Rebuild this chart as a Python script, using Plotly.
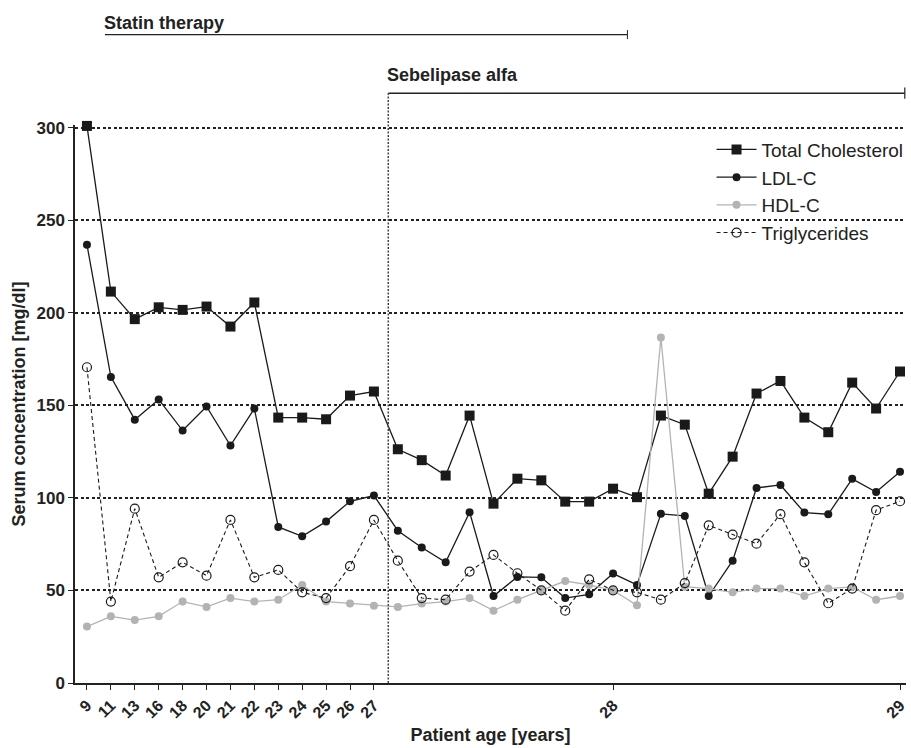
import plotly.graph_objects as go

# x positions are visit indices; only some visits carry an age label
visit_index = list(range(35))
tick_index = [0, 1, 2, 3, 4, 5, 6, 7, 8, 9, 10, 11, 12, 22, 34]
tick_labels = ["9", "11", "13", "16", "18", "20", "21", "22", "23", "24", "25", "26", "27", "28", "29"]

total_chol = [301, 211.5, 196.6, 203, 201.6, 203.4, 192.6, 205.6, 143.4, 143.4, 142.5, 155.3,
              157.5, 126.3, 120.4, 112.1, 144.5, 96.9, 110.4, 109.5, 98, 98, 105, 100.4, 144.5,
              139.6, 102.3, 122.3, 156.4, 163.2, 143.4, 135.5, 162.3, 148.3, 168.3]
ldl_c = [236.8, 165.4, 142.3, 153.2, 136.4, 149.4, 128.3, 148.3, 84.3, 79.3, 87.2, 98.2, 101.3,
         82.3, 73.2, 65.2, 92.3, 47, 57.3, 57.1, 45.9, 47.9, 59.1, 53, 91.4, 90.3, 47, 66.1,
         105.4, 107, 92.1, 91.2, 110.3, 103.2, 114.2]
hdl_c = [30.5, 36, 34, 36, 44, 41.1, 45.9, 44, 45, 53, 44, 42.9, 41.8, 41.1, 42.9, 44, 45.9, 39.1,
         45, 50.1, 55.1, 53, 50.1, 42, 186.7, 52, 51, 49, 51, 51, 47, 51, 51.9, 45, 47]
triglycerides = [170.6, 44, 94.2, 57.1, 65.2, 58, 88.1, 57.1, 61.1, 49, 45.9, 63.1, 88.1, 66.1,
                 45.9, 45, 60.2, 69.2, 59.3, 50.1, 39.1, 56, 50.1, 49, 45, 54, 85.2, 80.2, 75.3,
                 91.2, 65.2, 43.1, 51, 93.4, 98.2]

# therapy periods (in visit-index units)
statin_period = [0.75, 22.6]
sebelipase_period = [12.6, 34.2]

FONT = "Liberation Sans, Arial, sans-serif"

fig = go.Figure()
fig.add_trace(go.Scatter(x=visit_index, y=total_chol, name="Total Cholesterol", mode="lines+markers",
                         legendgroup="a", cliponaxis=False,
                         line=dict(color="#1a1a1a", width=1.3),
                         marker=dict(symbol="square", size=10, color="#1a1a1a")))
fig.add_trace(go.Scatter(x=visit_index, y=ldl_c, name="LDL-C", mode="lines+markers",
                         legendgroup="b", cliponaxis=False,
                         line=dict(color="#1a1a1a", width=1.3),
                         marker=dict(symbol="circle", size=8, color="#1a1a1a")))
fig.add_trace(go.Scatter(x=visit_index, y=hdl_c, name="HDL-C", mode="lines+markers",
                         legendgroup="c", cliponaxis=False,
                         line=dict(color="#b3b3b3", width=1.3),
                         marker=dict(symbol="circle", size=8, color="#b3b3b3")))
fig.add_trace(go.Scatter(x=visit_index, y=triglycerides, name="Triglycerides", mode="lines+markers",
                         legendgroup="d", cliponaxis=False,
                         line=dict(color="#1a1a1a", width=1.1, dash="4px,3px"),
                         marker=dict(symbol="circle-open", size=9, color="#1a1a1a",
                                     line=dict(width=1.2, color="#1a1a1a"))))

shapes = []
# Statin therapy bar
shapes.append(dict(type="line", xref="x", yref="paper", x0=statin_period[0], x1=statin_period[1],
                   y0=1.162, y1=1.162, line=dict(color="#222", width=1.2)))
shapes.append(dict(type="line", xref="x", yref="paper", x0=statin_period[1], x1=statin_period[1],
                   y0=1.154, y1=1.170, line=dict(color="#222", width=1)))
# Sebelipase bar
shapes.append(dict(type="line", xref="x", yref="paper", x0=sebelipase_period[0], x1=sebelipase_period[1],
                   y0=1.057, y1=1.057, line=dict(color="#222", width=1.5)))
shapes.append(dict(type="line", xref="x", yref="paper", x0=sebelipase_period[1], x1=sebelipase_period[1],
                   y0=1.047, y1=1.067, line=dict(color="#222", width=1.2)))
shapes.append(dict(type="line", xref="x", yref="paper", x0=sebelipase_period[0], x1=sebelipase_period[0],
                   y0=0, y1=1.057, line=dict(color="#444", width=1.5, dash="2px,1.5px")))

annotations = [
    dict(text="<b>Statin therapy</b>", xref="x", yref="paper", x=statin_period[0], y=1.183,
         xanchor="left", yanchor="middle", showarrow=False, xshift=-3,
         font=dict(size=18, color="#222", family=FONT)),
    dict(text="<b>Sebelipase alfa</b>", xref="x", yref="paper", x=sebelipase_period[0], y=1.090,
         xanchor="left", yanchor="middle", showarrow=False, xshift=-3,
         font=dict(size=18, color="#222", family=FONT)),
]

fig.update_layout(
    width=911, height=748,
    margin=dict(l=75, r=5, t=125, b=65, autoexpand=False),
    paper_bgcolor="white", plot_bgcolor="white",
    font=dict(family=FONT, color="#222"),
    shapes=shapes, annotations=annotations,
    legend=dict(x=0.766, y=0.99, xanchor="left", yanchor="top", bgcolor="rgba(0,0,0,0)",
                font=dict(size=19, color="#222"), tracegroupgap=0, itemwidth=40),
    xaxis=dict(range=[-0.5, 34.25], tickmode="array", tickvals=tick_index, ticktext=tick_labels,
               tickangle=-45, ticks="outside", ticklen=5, tickcolor="#222",
               showline=True, linecolor="#222", linewidth=1.5, showgrid=False, zeroline=False,
               tickfont=dict(size=16, color="#222", family=FONT, weight="bold"),
               title=dict(text="<b>Patient age [years]</b>", font=dict(size=18), standoff=8)),
    yaxis=dict(range=[0, 301.5], tickvals=[0, 50, 100, 150, 200, 250, 300],
               ticks="outside", ticklen=5, tickcolor="#222",
               showline=True, linecolor="#222", linewidth=1.5,
               showgrid=True, gridcolor="#222", gridwidth=2, griddash="3px,2.5px", zeroline=False,
               tickfont=dict(size=17, color="#222", weight="bold"),
               title=dict(text="<b>Serum concentration [mg/dl]</b>", font=dict(size=18), standoff=6)),
)

fig.write_html("out.html", post_script="document.body.style.margin='0';",
               config={"displayModeBar": False})
